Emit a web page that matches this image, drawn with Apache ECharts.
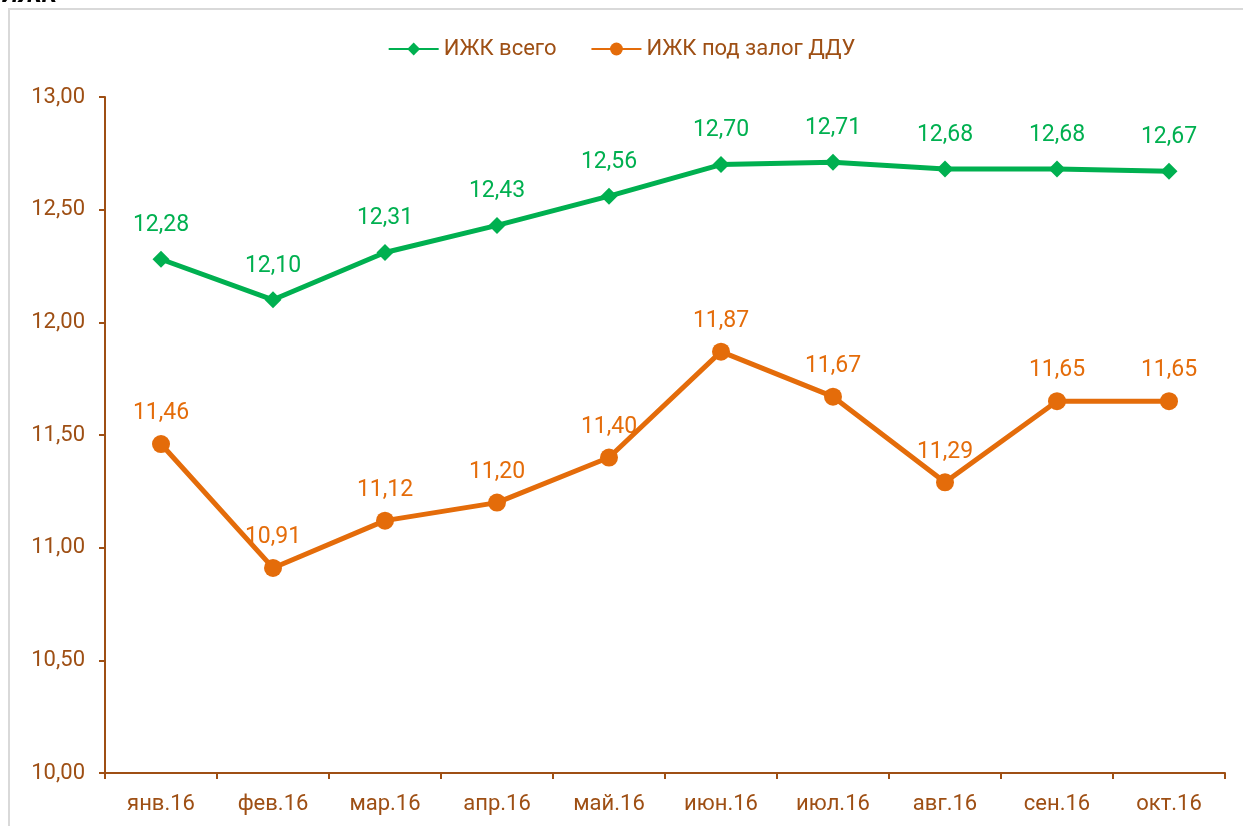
<!DOCTYPE html>
<html>
<head>
<meta charset="utf-8">
<script src="https://cdn.jsdelivr.net/npm/echarts@6/dist/echarts.min.js"></script>
<style>
html,body{margin:0;padding:0;background:#fff;}
#chart{width:1243px;height:826px;}
</style>
</head>
<body>
<div id="chart"></div>
<script>
// месяцы
const months = ['янв.16','фев.16','мар.16','апр.16','май.16','июн.16','июл.16','авг.16','сен.16','окт.16'];
// ставки, %
const totalRates = [12.28, 12.10, 12.31, 12.43, 12.56, 12.70, 12.71, 12.68, 12.68, 12.67];
const dduRates = [11.46, 10.91, 11.12, 11.20, 11.40, 11.87, 11.67, 11.29, 11.65, 11.65];
const seriesNames = ['ИЖК всего', 'ИЖК под залог ДДУ'];

const brown = '#9E4F14';
const green = '#00B050';
const orange = '#E46C0A';
const fmt = v => v.toFixed(2).replace('.', ',');

let chart = echarts.init(document.getElementById('chart'));
let option = {
    animation: false,
    textStyle: {fontFamily: 'Roboto'},
    graphic: [
        {type: 'rect', shape: {x: 9, y: 9, width: 1300, height: 900},
         style: {fill: 'none', stroke: '#d9d9d9', lineWidth: 2}, silent: true},
        {type: 'text', left: 2, top: -16,
         style: {text: 'ИЖК', font: 'italic bold 24px Roboto', fill: '#000'}}
    ],
    legend: {
        top: 33,
        left: 'center',
        itemGap: 34,
        itemWidth: 50,
        itemHeight: 16,
        textStyle: {color: brown, fontSize: 22},
        data: seriesNames
    },
    grid: {left: 105, right: 18, top: 97, bottom: 53},
    xAxis: {
        type: 'category',
        data: months,
        boundaryGap: true,
        axisLine: {lineStyle: {color: brown, width: 2}},
        axisTick: {show: true, length: 6, lineStyle: {color: brown, width: 2}},
        axisLabel: {color: brown, fontSize: 22, margin: 20}
    },
    yAxis: {
        type: 'value',
        min: 10,
        max: 13,
        interval: 0.5,
        axisLine: {show: true, lineStyle: {color: brown, width: 2}},
        axisTick: {show: true, inside: false, length: 6, lineStyle: {color: brown, width: 2}},
        axisLabel: {color: brown, fontSize: 22, margin: 20, formatter: v => fmt(v)},
        splitLine: {show: false}
    },
    series: [
        {
            name: seriesNames[0],
            type: 'line',
            data: totalRates,
            symbol: 'diamond',
            symbolSize: 17,
            color: green,
            lineStyle: {width: 5, color: green},
            label: {show: true, position: 'top', distance: 14, color: green, fontSize: 23,
                    formatter: p => fmt(p.value)}
        },
        {
            name: seriesNames[1],
            type: 'line',
            data: dduRates,
            symbol: 'circle',
            symbolSize: 18,
            color: orange,
            lineStyle: {width: 5, color: orange},
            label: {show: true, position: 'top', distance: 10, color: orange, fontSize: 23,
                    formatter: p => fmt(p.value)}
        }
    ]
};
chart.setOption(option);
</script>
</body>
</html>
